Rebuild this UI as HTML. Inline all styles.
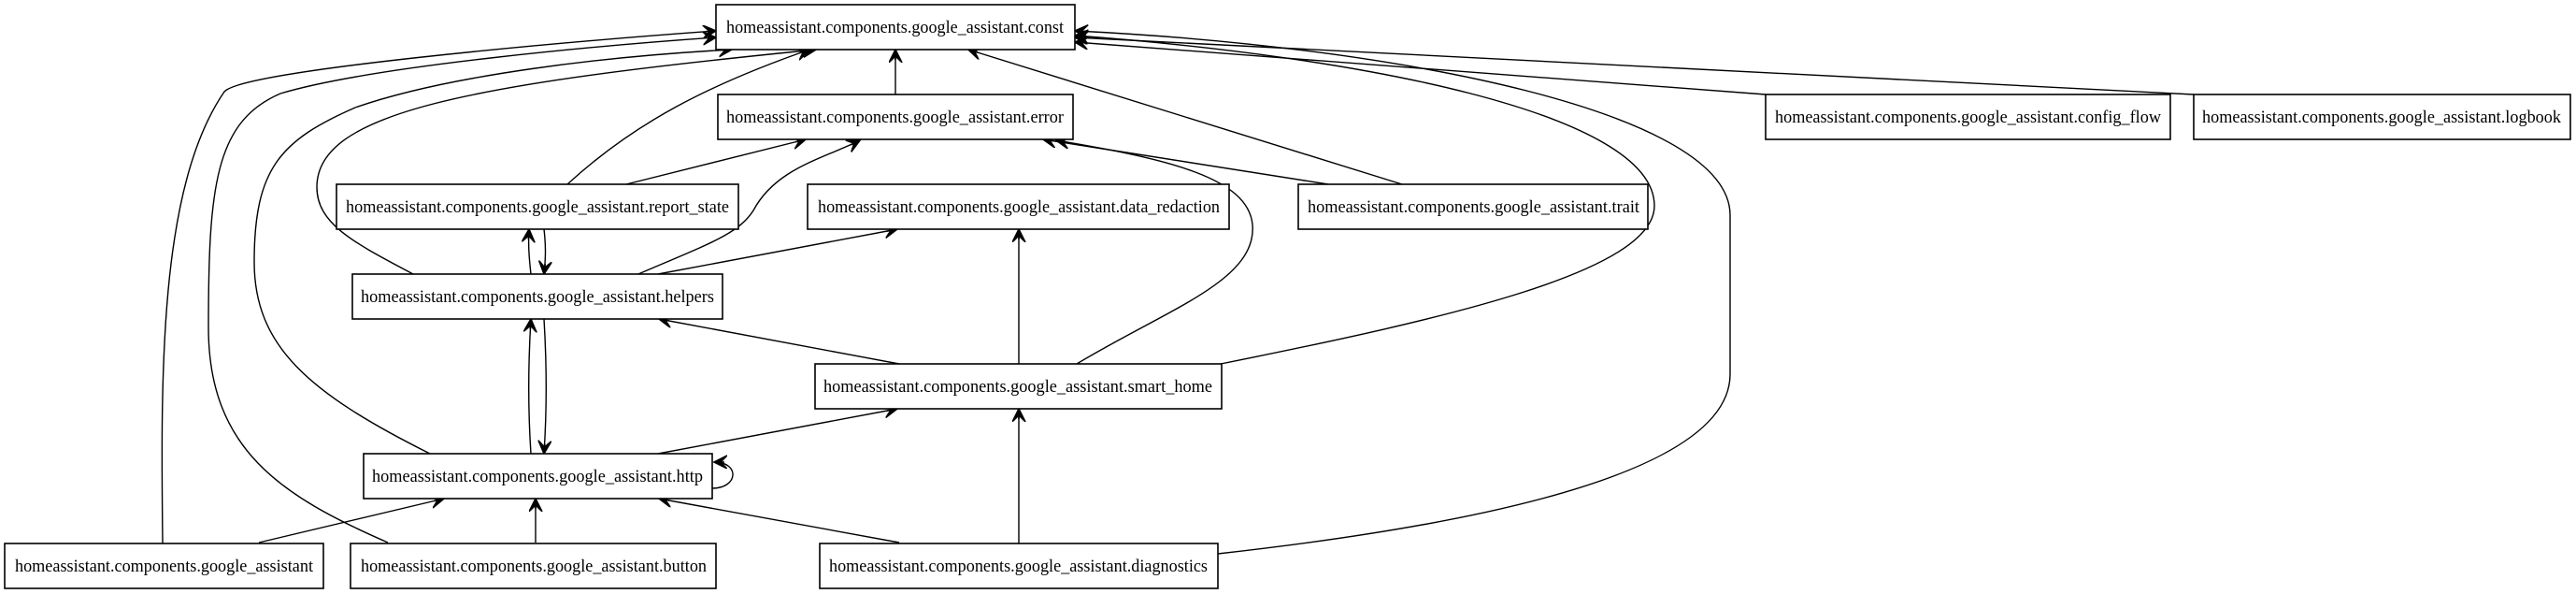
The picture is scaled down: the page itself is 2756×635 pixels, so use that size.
<!DOCTYPE html>
<html><head><meta charset="utf-8"><style>
html,body{margin:0;padding:0;background:#fff;}
svg{display:block;}
text{font-family:"Liberation Serif",serif;font-size:19px;fill:#000;}
</style></head><body>
<svg width="2756" height="635" viewBox="0 0 2756 635" xmlns="http://www.w3.org/2000/svg">
<defs>
<marker id="a" markerUnits="userSpaceOnUse" markerWidth="20" markerHeight="20" refX="14" refY="7" orient="auto">
<path d="M0,0 L14,7 L0,14 M14,7 L3,7" fill="none" stroke="#000" stroke-width="1.6"/>
<path d="M0,1 L14,7 L0,13 L6,7 Z" fill="#000"/>
</marker>
</defs>
<g fill="none" stroke="#000" stroke-width="1.4" marker-end="url(#a)">
<!-- to const -->
<path d="M174,581 C172,400 170,200 240,98 C260,75 600,45 766,33"/>
<path d="M415,580 C300,530 223,480 223,350 C223,200 230,130 300,100 C400,70 650,48 766,40"/>
<path d="M460,485 C330,420 272,370 272,280 C272,180 300,150 380,115 C480,80 650,60 783,53"/>
<path d="M442,293 C380,260 339,240 339,200 C339,120 500,90 873,53"/>
<path d="M607,197 C680,130 760,90 866,53"/>
<path d="M958,101 L958,53"/>
<path d="M1500,197 L1036,53"/>
<path d="M1306,389 C1550,340 1770,290 1770,220 C1770,120 1450,60 1150,38"/>
<path d="M1303,592 C1500,570 1851,520 1851,400 L1851,230 C1851,120 1500,50 1150,33"/>
<path d="M1889,101 L1150,45"/>
<path d="M2347,101 L1150,40"/>
<!-- to error -->
<path d="M670,197 L862,149"/>
<path d="M683,293 C760,260 790,250 806,225 C830,180 880,170 920,150"/>
<path d="M1421,197 L1116,149"/>
<path d="M1152,389 C1250,330 1345,300 1340,240 C1335,190 1250,170 1130,150"/>
<!-- report_state / helpers -->
<path d="M568,293 C566,275 565,262 566,245"/>
<path d="M582,245 C584,262 584,275 582,293"/>
<path d="M704,293 L960,245"/>
<path d="M962,389 L705,341"/>
<path d="M1090,389 L1090,245"/>
<!-- helpers / http -->
<path d="M568,485 C565,440 565,390 568,341"/>
<path d="M582,341 C585,390 585,440 582,485"/>
<path d="M704,485 L960,437"/>
<path d="M762,522 C790,522 792,494 764,494"/>
<path d="M277,580 L475,533"/>
<path d="M573,580 L573,533"/>
<path d="M962,580 L705,533"/>
<path d="M1090,581 L1090,437"/>
</g>
<g fill="#fff" stroke="#000" stroke-width="1.6">
<rect x="766" y="5" width="384" height="48"/>
<rect x="768" y="101" width="380" height="48"/>
<rect x="360" y="197" width="430" height="48"/>
<rect x="864" y="197" width="451" height="48"/>
<rect x="1389" y="197" width="374" height="48"/>
<rect x="377" y="293" width="396" height="48"/>
<rect x="872" y="389" width="435" height="48"/>
<rect x="389" y="485" width="373" height="48"/>
<rect x="5" y="581" width="341" height="48"/>
<rect x="375" y="581" width="391" height="48"/>
<rect x="877" y="581" width="426" height="48"/>
<rect x="1889" y="101" width="433" height="48"/>
<rect x="2347" y="101" width="403" height="48"/>
</g>
<g text-anchor="start">
<text x="777" y="35" textLength="361" lengthAdjust="spacingAndGlyphs">homeassistant.components.google_assistant.const</text>
<text x="777" y="131" textLength="361" lengthAdjust="spacingAndGlyphs">homeassistant.components.google_assistant.error</text>
<text x="370" y="227" textLength="410" lengthAdjust="spacingAndGlyphs">homeassistant.components.google_assistant.report_state</text>
<text x="875" y="227" textLength="430" lengthAdjust="spacingAndGlyphs">homeassistant.components.google_assistant.data_redaction</text>
<text x="1399" y="227" textLength="355" lengthAdjust="spacingAndGlyphs">homeassistant.components.google_assistant.trait</text>
<text x="386" y="323" textLength="378" lengthAdjust="spacingAndGlyphs">homeassistant.components.google_assistant.helpers</text>
<text x="881" y="419" textLength="416" lengthAdjust="spacingAndGlyphs">homeassistant.components.google_assistant.smart_home</text>
<text x="398" y="515" textLength="354" lengthAdjust="spacingAndGlyphs">homeassistant.components.google_assistant.http</text>
<text x="16" y="611" textLength="319" lengthAdjust="spacingAndGlyphs">homeassistant.components.google_assistant</text>
<text x="386" y="611" textLength="370" lengthAdjust="spacingAndGlyphs">homeassistant.components.google_assistant.button</text>
<text x="887" y="611" textLength="405" lengthAdjust="spacingAndGlyphs">homeassistant.components.google_assistant.diagnostics</text>
<text x="1899" y="131" textLength="413" lengthAdjust="spacingAndGlyphs">homeassistant.components.google_assistant.config_flow</text>
<text x="2356" y="131" textLength="384" lengthAdjust="spacingAndGlyphs">homeassistant.components.google_assistant.logbook</text>
</g>
</svg>
</body></html>
